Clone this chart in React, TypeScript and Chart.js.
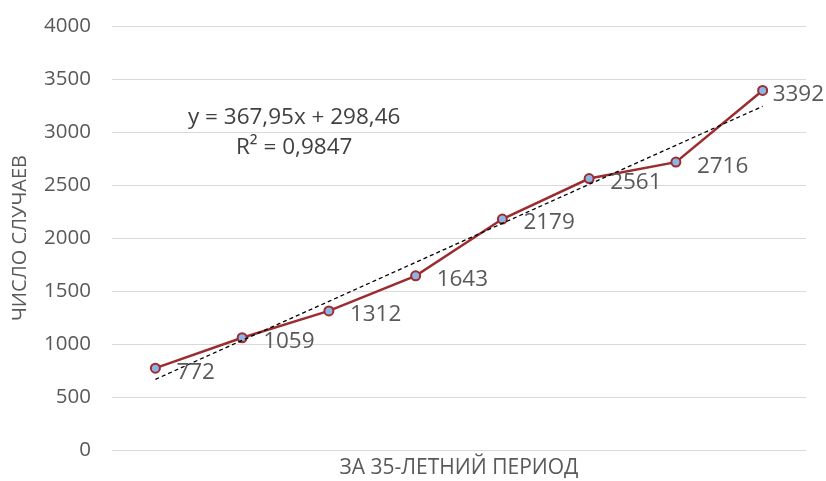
import React, { useEffect, useRef } from "react";
import { Chart, registerables } from "chart.js";

Chart.register(...registerables);

const categories = ["1", "2", "3", "4", "5", "6", "7", "8"];
const cases = [772, 1059, 1312, 1643, 2179, 2561, 2716, 3392];
const trendValues = [666.41, 1034.36, 1402.31, 1770.26, 2138.21, 2506.16, 2874.11, 3242.06];
const yTicks = [0, 500, 1000, 1500, 2000, 2500, 3000, 3500, 4000];
const equationLines = ["y = 367,95x + 298,46", "R² = 0,9847"];
const xTitle = "ЗА 35-ЛЕТНИЙ ПЕРИОД";
const yTitle = "ЧИСЛО СЛУЧАЕВ";

const FONT = "'Open Sans', 'Noto Sans', sans-serif";
const TEXT = "#595959";
const RED = "#9B2D30";

const labelPlugin = {
  id: "pointLabels",
  afterDatasetsDraw(chart: any) {
    const ctx = chart.ctx;
    const meta = chart.getDatasetMeta(0);
    ctx.save();
    ctx.font = `22.5px ${FONT}`;
    ctx.fillStyle = TEXT;
    ctx.textBaseline = "middle";
    ctx.textAlign = "left";
    meta.data.forEach((pt: any, i: number) => {
      const txt = String(cases[i]);
      const w = ctx.measureText(txt).width;
      let x = pt.x + 21;
      if (x + w > chart.width - 2) x = pt.x + 10;
      ctx.fillText(txt, x, pt.y + 4);
    });
    // trendline equation
    const xs = chart.scales.x;
    const ys = chart.scales.y;
    const cx = xs.getPixelForValue(0) + (xs.getPixelForValue(1) - xs.getPixelForValue(0)) * 1.6;
    ctx.textAlign = "center";
    ctx.fillStyle = "#404040";
    ctx.font = `22.5px ${FONT}`;
    ctx.fillText(equationLines[0], cx, ys.getPixelForValue(3140));
    ctx.fillText(equationLines[1], cx, ys.getPixelForValue(2850));
    ctx.restore();
  },
};

export default function App() {
  const ref = useRef<HTMLCanvasElement>(null);
  useEffect(() => {
    document.body.style.margin = "0";
    const chart = new Chart(ref.current!, {
      type: "line",
      data: {
        labels: categories,
        datasets: [
          {
            data: cases,
            borderColor: RED,
            borderWidth: 2.5,
            pointRadius: 4.5,
            pointBackgroundColor: "#8DB4E2",
            pointBorderColor: RED,
            pointBorderWidth: 2,
            tension: 0,
            order: 2,
          },
          {
            data: trendValues,
            borderColor: "#000000",
            borderWidth: 1.3,
            borderDash: [4, 3],
            pointRadius: 0,
            tension: 0,
            order: 1,
          },
        ],
      },
      options: {
        responsive: false,
        animation: false,
        devicePixelRatio: 1,
        layout: { padding: { left: 0, right: 20, top: 26, bottom: 0 } },
        plugins: { legend: { display: false }, tooltip: { enabled: false } },
        scales: {
          x: {
            offset: true,
            grid: { display: false },
            border: { display: false },
            ticks: { display: false },
            title: {
              display: true,
              text: xTitle,
              color: TEXT,
              font: { family: FONT, size: 21 },
              padding: { top: 3, bottom: 0 },
            },
            afterFit(scale: any) {
              scale.height = 31;
              scale.paddingLeft = 0;
              scale.paddingRight = 0;
            },
          },
          y: {
            min: 0,
            max: 4000,
            afterBuildTicks(scale: any) {
              scale.ticks = yTicks.map((v) => ({ value: v }));
            },
            grid: { color: "#D9D9D9", lineWidth: 1, drawTicks: false },
            border: { display: false },
            ticks: {
              color: TEXT,
              font: { family: FONT, size: 20.5 },
              padding: 21,
              callback: (v: any) => String(v),
            },
            title: {
              display: true,
              text: yTitle,
              color: TEXT,
              font: { family: FONT, size: 20 },
              padding: { top: 8, bottom: 0 },
            },
            afterFit(scale: any) {
              scale.width = 112;
              scale.paddingTop = 0;
              scale.paddingBottom = 0;
            },
          },
        },
      },
      plugins: [labelPlugin],
    });
    return () => chart.destroy();
  }, []);
  return (
    <div style={{ width: 826, height: 481, background: "#fff" }}>
      <canvas ref={ref} width={826} height={481} />
    </div>
  );
}
